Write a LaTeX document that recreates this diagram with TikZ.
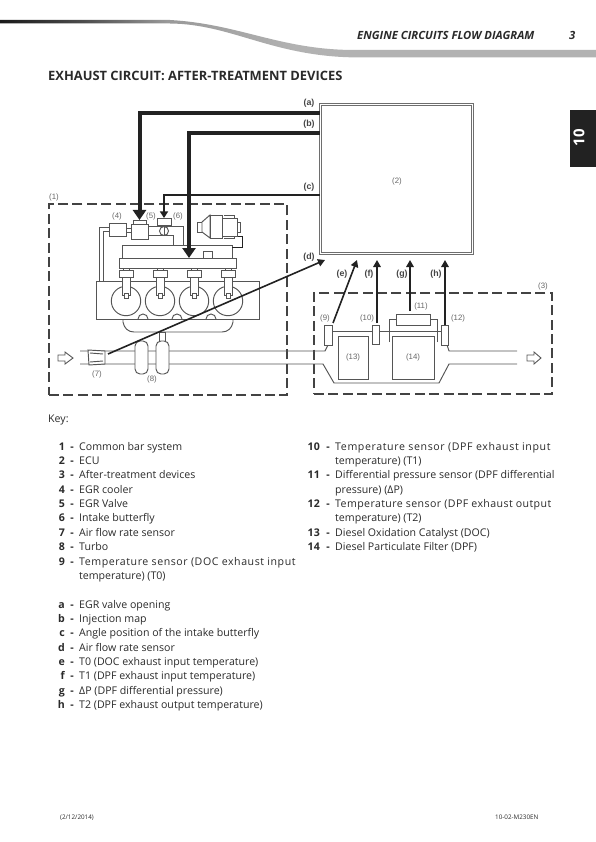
\documentclass[tikz,border=0pt]{standalone}
\usepackage{fontspec}
\setmainfont{Open Sans}
\newfontfamily\labelfont{Liberation Sans}
\usetikzlibrary{arrows.meta,calc}
\definecolor{ink}{HTML}{555555}
\definecolor{dark}{HTML}{222222}
\definecolor{labgrey}{HTML}{666666}
\definecolor{txt}{HTML}{2A2A2A}
\pgfdeclarehorizontalshading{bandshade}{100bp}{color(0bp)=(black!90); color(25bp)=(black!90); color(32bp)=(black!70); color(39bp)=(black!40); color(50bp)=(black!30); color(100bp)=(black!30)}
\tikzset{
  x=1pt,y=-1pt,
  part/.style={draw=ink,line width=0.95pt,fill=white,inner sep=0pt,outer sep=0pt},
  wire/.style={draw=ink,line width=0.95pt},
  zone/.style={draw=dark!85,line width=1.5pt,dash pattern=on 10pt off 4.4pt,inner sep=0pt,outer sep=0pt},
  heavy/.style={draw=dark,line width=4pt,-{Triangle[length=10pt,width=13pt]}},
  medium/.style={draw=dark,line width=1.6pt,-{Triangle[length=7pt,width=7.5pt]}},
  thin arrow/.style={draw=dark,line width=1.3pt,-{Triangle[length=6.5pt,width=8pt]}},
  numlab/.style={font=\labelfont\fontsize{7.8}{9}\selectfont,text=labgrey,inner sep=0pt},
  letlab/.style={font=\labelfont\bfseries\fontsize{8.8}{10}\selectfont,text=ink!80!black,inner sep=0pt},
  keynum/.style={font=\bfseries\fontsize{10.6}{12}\selectfont,text=txt,anchor=base east,inner sep=0pt},
  keytext/.style={font=\fontsize{10.6}{12}\selectfont,text=txt,anchor=base west,inner sep=0pt},
  foot/.style={font=\fontsize{6.3}{8}\selectfont,text=txt,anchor=base west,inner sep=0pt},
  ecubox/.style={draw=ink!85,line width=1pt,inner sep=0pt,outer sep=0pt,fill=white},
}
\newcommand{\itemL}[4]{%
  \node[keynum] (n#1) at (65,#3) {#2};
  \node[keynum] (d#1) at (74,#3) {-};
  \node[keytext] (t#1) at (79,#3) {#4};}
\newcommand{\itemR}[4]{%
  \node[keynum] (n#1) at (320,#3) {#2};
  \node[keynum] (d#1) at (330,#3) {-};
  \node[keytext] (t#1) at (335,#3) {#4};}
\newcommand{\spaced}[2]{{\addfontfeature{LetterSpace=#1}#2}}
\begin{document}
\begin{tikzpicture}
\useasboundingbox (0,0) rectangle (596,842);
% header band
\shade[shading=bandshade] (0,20) -- (170,20) .. controls (240,24) and (280,50) .. (355,50) -- (596,50) -- (596,57.3) -- (350,57.3) .. controls (270,55) and (230,24) .. (170,23.5) -- (0,23.5) -- cycle;
\node[font=\bfseries\itshape\fontsize{11.3}{12}\selectfont,text=txt,anchor=base west,inner sep=0pt] (head) at (357,40) {ENGINE CIRCUITS FLOW DIAGRAM};
\node[font=\bfseries\itshape\fontsize{11.3}{12}\selectfont,text=txt,anchor=base west,inner sep=0pt] (page) at (569,40) {3};
\node[font=\bfseries\fontsize{12.9}{14}\selectfont,text=txt,anchor=base west,inner sep=0pt] (title) at (48,81) {EXHAUST CIRCUIT: AFTER-TREATMENT DEVICES};
% side tab
\fill[dark] (570,110) rectangle (596,167);
\node[font=\bfseries\fontsize{15}{16}\selectfont,text=white,rotate=90,inner sep=0pt] (tab) at (579,138) {10};

% zones
\node[zone,minimum width=238,minimum height=191] (zone1) at (168,299.5) {};
\node[zone,minimum width=238,minimum height=101] (zone3) at (433,343.5) {};

% pipes
\draw[wire] (80,351) -- (325,351) -- (328,345);
\draw[wire] (80,364) -- (323,364) -- (334,383) -- (439,383) -- (449,364) -- (517,364);
\draw[wire] (447,345) -- (449,351) -- (517,351);
\draw[wire] (332,331) -- (372,331);
\draw[wire] (380,331) -- (441,331);

% open arrows
\draw[ink,line width=0.9pt,fill=white] (58,355) -- (65,355) -- (65,352) -- (73,358) -- (65,364) -- (65,361) -- (58,361) -- cycle;
\draw[ink,line width=0.9pt,fill=white] (527,355) -- (534,355) -- (534,352) -- (541,358) -- (534,364) -- (534,361) -- (527,361) -- cycle;

% sump and block
\draw[part] (123,315) -- (123,322) .. controls (124,328) and (128,332) .. (134,332) -- (222,332) .. controls (228,332) and (232,328) .. (233,322) -- (233,315);
\node[part,minimum width=163,minimum height=38] (block) at (177.5,300) {};
\foreach \cx in {143,177,211} \draw[wire] (\cx-5,319) arc[start angle=180,end angle=360,radius=5];
\foreach \cx in {126,160,194,228} \draw[part] (\cx,301) circle (14.7);

% EGR pipes
\draw[wire] (99,281) -- (99,227) -- (109,227);
\draw[wire] (103,281) -- (103,231) -- (109,231);
\draw[wire] (126,228) -- (131,228);
\draw[wire] (126,232) -- (131,232);
\draw[wire] (148,226) -- (183,226) -- (183,245);
\draw[wire] (148,235) -- (173,235) -- (173,245);

% manifold, rail
\node[part,minimum width=110,minimum height=13] (manifold) at (177,251.5) {};
\node[part,minimum width=9,minimum height=7] (mbox) at (208,254.5) {};
\node[part,minimum width=117,minimum height=10] (rail) at (177.5,263) {};

% injectors
\foreach \cx in {126.5,160,194,228}{
  \draw[part] (\cx-4,277) rectangle (\cx+4,295);
  \draw[part] (\cx-2,293) rectangle (\cx+2,298);
  \draw[wire] (\cx-3,268) -- (\cx-3,270) (\cx+3,268) -- (\cx+3,270);
  \draw[part] (\cx-7,270) rectangle (\cx+7,277);
}

% EGR parts
\node[part,minimum width=17,minimum height=13] (cooler) at (117.5,229.5) {};
\node[part,minimum width=17,minimum height=15] (valve) at (139.5,231.5) {};
\node[part,minimum width=13,minimum height=4] (valvecap) at (139.5,222) {};
\node[part,minimum width=14,minimum height=7] (intake) at (164,221.5) {};
\node[part,circle,minimum size=9] (butterfly) at (164,231) {};
\draw[wire] (butterfly.north) -- (butterfly.south);
\draw[wire] (164,225) -- (butterfly.north);

% compressor
\draw[dark,line width=1.5pt] (233,236.5) -- (242.5,236.5) -- (242.5,247.5) -- (232,247.5);
\draw[part] (197,222) rectangle (202,232);
\draw[part] (202,222) -- (210,215) -- (210,238) -- (202,232) -- cycle;
\draw[part] (210,215) rectangle (222,238);
\draw[part] (222,218) rectangle (237,236);
\draw[part] (237,222) rectangle (240,232);
\draw[wire] (224,215) -- (234,215) -- (234,218) (224,238) -- (234,238) -- (234,236);

% turbo
\draw[part] (159,332) rectangle (165,343);
\draw[part,rounded corners=5pt] (135,341) rectangle (148,374);
\draw[part,rounded corners=5pt] (156,341) rectangle (169,374);

% sensor 7
\draw[part] (88,350) -- (105,351) -- (105,364) -- (89,365) -- cycle;
\draw[wire] (90,353) -- (103,354) (90,362) -- (103,361);
\node[inner sep=0pt,minimum size=0pt] (s7) at (108,354) {};

% after-treatment
\node[part,minimum width=30,minimum height=43] (doc) at (353,357.5) {};
\node[part,minimum width=42,minimum height=43] (dpf) at (413,357.5) {};
\draw[wire] (389,342) -- (389,319) -- (396,319);
\draw[wire] (437,342) -- (437,319) -- (430,319);
\node[part,minimum width=34,minimum height=11] (dp) at (413,319.5) {};
\node[part,minimum width=7.5,minimum height=20] (s9) at (328.5,335) {};
\node[part,minimum width=7.5,minimum height=19] (s10) at (376,334.5) {};
\node[part,minimum width=7.5,minimum height=20] (s12) at (445,335) {};

% ECU
\node[ecubox,minimum width=154,minimum height=151] (ecu) at (396.5,179) {};
\node[ecubox,minimum width=150.5,minimum height=147.5] (ecuinner) at (396.5,179) {};

% connectors
\coordinate (railin) at (189,258);
\coordinate (dend) at (325,260);
\coordinate (eend) at (357,260);
\coordinate (fstart) at (377,323);
\coordinate (fend) at (377,260);
\coordinate (gstart) at (410,311);
\coordinate (gend) at (410,260);
\coordinate (hend) at (445,260);
\coordinate (eout) at (333,323);
\draw[heavy] (ecu.west |- 0,113) -| (valvecap.north);
\draw[heavy] (ecu.west |- 0,133) -| (railin);
\draw[thin arrow] (ecu.west |- 0,195) -| (intake.north);
\draw[medium] (s7.center) -- (dend);
\draw[medium] (eout) -- (eend);
\draw[medium] (fstart) -- (fend);
\draw[medium] (gstart) -- (gend);
\draw[medium] (s12.north) -- (hend);

% labels
\node[numlab] (l1) at (54,197) {(1)};
\node[numlab] (l2) at (397,181) {(2)};
\node[numlab] (l3) at (543,286) {(3)};
\node[numlab] (l4) at (117,216) {(4)};
\node[numlab] (l5) at (151,216) {(5)};
\node[numlab] (l6) at (178,216) {(6)};
\node[numlab] (l7) at (97,374) {(7)};
\node[numlab] (l8) at (152,379) {(8)};
\node[numlab] (l9) at (325,318) {(9)};
\node[numlab] (l10) at (367,318) {(10)};
\node[numlab] (l11) at (421,306) {(11)};
\node[numlab] (l12) at (458,318) {(12)};
\node[numlab] (l13) at (353,357) {(13)};
\node[numlab] (l14) at (413,357) {(14)};
\node[letlab] (la) at (309,103) {(a)};
\node[letlab] (lb) at (309,124) {(b)};
\node[letlab] (lc) at (309,187) {(c)};
\node[letlab] (ld) at (309,257) {(d)};
\node[letlab] (le) at (342,274) {(e)};
\node[letlab] (lf) at (369,274) {(f)};
\node[letlab] (lg) at (402,274) {(g)};
\node[letlab] (lh) at (436,274) {(h)};

% key
\node[keytext] (key) at (48,422) {Key:};
\itemL{1}{1}{450}{Common bar system}
\itemL{2}{2}{464}{ECU}
\itemL{3}{3}{478}{After-treatment devices}
\itemL{4}{4}{493}{EGR cooler}
\itemL{5}{5}{507}{EGR Valve}
\itemL{6}{6}{521}{Intake butterfly}
\itemL{7}{7}{536}{Air flow rate sensor}
\itemL{8}{8}{550}{Turbo}
\itemL{9}{9}{565}{\spaced{5.2}{Temperature sensor (DOC exhaust input}}
\node[keytext] (t9b) at (79,579) {temperature) (T0)};
\itemR{10}{10}{450}{\spaced{5.8}{Temperature sensor (DPF exhaust input}}
\node[keytext] (t10b) at (335,464) {temperature) (T1)};
\itemR{11}{11}{478}{Differential pressure sensor (DPF differential}
\node[keytext] (t11b) at (335,493) {pressure) (ΔP)};
\itemR{12}{12}{507}{\spaced{3.7}{Temperature sensor (DPF exhaust output}}
\node[keytext] (t12b) at (335,521) {temperature) (T2)};
\itemR{13}{13}{536}{Diesel Oxidation Catalyst (DOC)}
\itemR{14}{14}{550}{Diesel Particulate Filter (DPF)}
\itemL{a}{a}{608}{EGR valve opening}
\itemL{b}{b}{622}{Injection map}
\itemL{c}{c}{636}{Angle position of the intake butterfly}
\itemL{d}{d}{651}{Air flow rate sensor}
\itemL{e}{e}{665}{T0 (DOC exhaust input temperature)}
\itemL{f}{f}{679}{T1 (DPF exhaust input temperature)}
\itemL{g}{g}{694}{ΔP (DPF differential pressure)}
\itemL{h}{h}{708}{T2 (DPF exhaust output temperature)}
% footer
\node[foot] (fl) at (60,819) {(2/12/2014)};
\node[foot] (fr) at (495,819) {10-02-M230EN};
\end{tikzpicture}
\end{document}
